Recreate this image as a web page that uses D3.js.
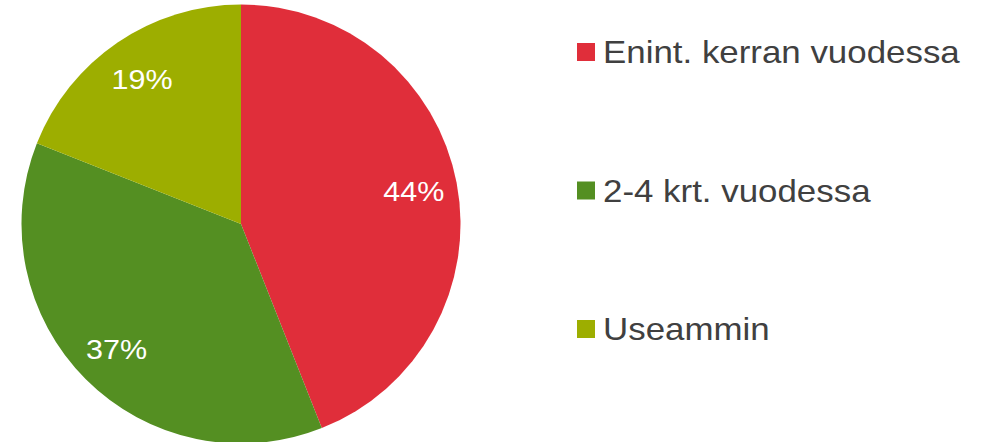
<!DOCTYPE html>
<html>
<head>
<meta charset="utf-8">
<script src="https://cdn.jsdelivr.net/npm/d3@7"></script>
<style>
  body { margin: 0; background: #fff; }
  svg { display: block; font-family: "Liberation Sans", Arial, sans-serif; }
</style>
</head>
<body>
<svg id="chart" width="982" height="442"></svg>
<script>
var categories = ["Enint. kerran vuodessa", "2-4 krt. vuodessa", "Useammin"];
var values = [44, 37, 19];
var colors = ["#e02e3a", "#548f22", "#9dae00"];

var svg = d3.select("#chart");
var cx = 241, cy = 224, r = 219.5;
var stretch = 1.09; // reference text looks a bit wide

var pie = d3.pie().sort(null).value(function(d) { return d; });
var arcs = pie(values);
var arc = d3.arc().innerRadius(0).outerRadius(r);
var labelArc = d3.arc().innerRadius(176).outerRadius(176);

var g = svg.append("g").attr("transform", "translate(" + cx + "," + cy + ")");

g.selectAll("path").data(arcs)
  .enter().append("path")
  .attr("d", arc)
  .attr("fill", function(d, i) { return colors[i]; });

g.selectAll("text").data(arcs)
  .enter().append("text")
  .attr("transform", function(d) {
    return "translate(" + labelArc.centroid(d) + ") scale(" + stretch + ",1)";
  })
  .attr("text-anchor", "middle")
  .attr("dy", "0.36em")
  .attr("fill", "#fff")
  .attr("font-size", 28)
  .text(function(d) { return d.data + "%"; });

var item = svg.append("g").selectAll("g").data(categories)
  .enter().append("g")
  .attr("transform", function(d, i) { return "translate(577," + (43 + i * 138.5) + ")"; });

item.append("rect")
  .attr("width", 18).attr("height", 18)
  .attr("fill", function(d, i) { return colors[i]; });

item.append("text")
  .attr("transform", "translate(26,20) scale(" + stretch + ",1)")
  .attr("font-size", 32)
  .attr("fill", "#404040")
  .text(function(d) { return d; });
</script>
</body>
</html>
